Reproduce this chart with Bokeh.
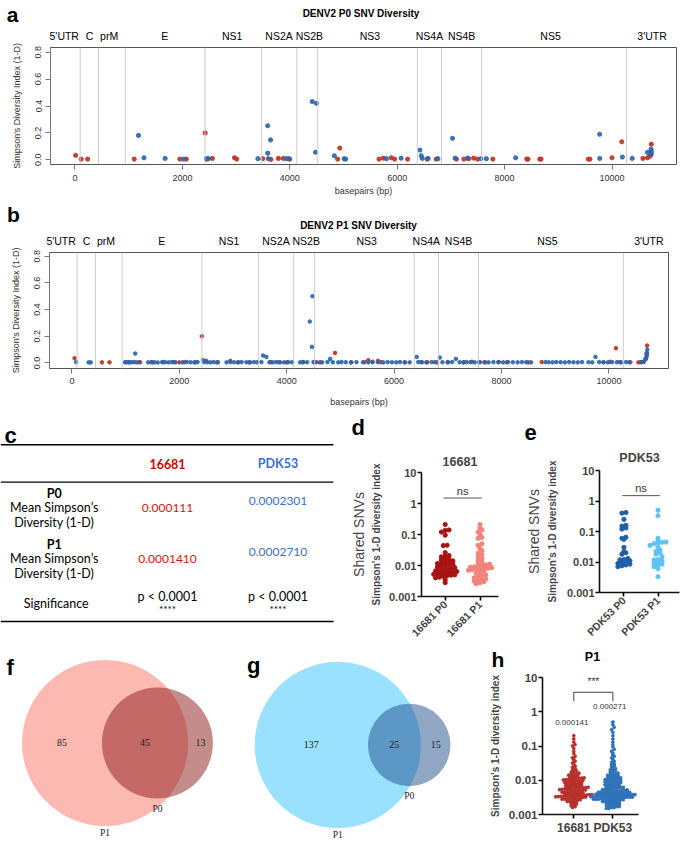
import math
from bokeh.plotting import figure
from bokeh.layouts import column, row
from bokeh.models import (Range1d, FixedTicker, LinearAxis, Span, Label, Title,
                          PrintfTickFormatter)
from bokeh.core.properties import value
from bokeh.embed import file_html
from bokeh.resources import INLINE

SANS = "Liberation Sans"
SERIF = "Liberation Serif"
TFONT = "Lato"

# ---------------- data ----------------
gene_names = ["5'UTR", "C", "prM", "E", "NS1", "NS2A", "NS2B", "NS3", "NS4A", "NS4B", "NS5", "3'UTR"]
gene_ends = [96, 438, 936, 2421, 3477, 4131, 4521, 6375, 6825, 7569, 10269]
bp_ticks = [0, 2000, 4000, 6000, 8000, 10000]
div_ticks = [0.0, 0.2, 0.4, 0.6, 0.8]

a_red_bp = [12, 115, 236, 1103, 1952, 2073, 2424, 2448, 2558, 2970, 3012, 3497, 3648, 3788, 3879,
            4000, 4891, 4930, 5661, 5739, 5891, 5952, 6194, 6558, 6727, 7103, 7242, 7333, 7424, 7497,
            7782, 8412, 8436, 8655, 8679, 9558, 9588, 10000, 10182, 10576, 10661, 10700, 10727, 10730, 10732]
a_red_val = [0.033, 0.005, 0.005, 0.005, 0.005, 0.005, 0.2, 0.005, 0.01, 0.015, 0.005, 0.008, 0.003, 0.01, 0.01,
             0.005, 0.005, 0.087, 0.005, 0.012, 0.015, 0.005, 0.005, 0.005, 0.005, 0.005, 0.005, 0.008, 0.012, 0.005,
             0.005, 0.005, 0.005, 0.005, 0.005, 0.005, 0.005, 0.015, 0.134, 0.01, 0.015, 0.025, 0.037, 0.055, 0.116]
a_blue_bp = [1182, 1285, 1679, 2024, 2448, 2485, 3406, 3588, 3642, 3590, 3600, 3939, 3982, 4418, 4497,
             4479, 4830, 5012, 5042, 5800, 6073, 6424, 6448, 6467, 6576, 6758, 7030, 7079, 7309, 7558,
             7661, 8206, 9770, 9772, 10194, 10376, 10661, 10727, 10729, 10725]
a_blue_val = [0.181, 0.015, 0.01, 0.005, 0.008, 0.008, 0.008, 0.253, 0.148, 0.049, 0.008, 0.008, 0.008, 0.433, 0.42,
              0.056, 0.03, 0.008, 0.005, 0.008, 0.012, 0.072, 0.03, 0.01, 0.01, 0.008, 0.16, 0.012, 0.012, 0.008,
              0.008, 0.015, 0.19, 0.01, 0.02, 0.01, 0.055, 0.08, 0.062, 0.04]

b_blue_bp = [80, 310, 350, 990, 1030, 1070, 1110, 1150, 1180, 1250,
             1420, 1480, 1540, 1600, 1680, 1740, 1800, 1860, 1930, 2060,
             2140, 2210, 2280, 2340, 2440, 2460, 2520, 2580, 2640, 2720,
             2880, 2950, 3020, 3090, 3160, 3250, 3320, 3390, 3450, 3530,
             3560, 3620, 3680, 3740, 3800, 3880, 3950, 4030, 4100, 4250,
             4310, 4380, 4430, 4470, 4480, 4500, 4560, 4660, 4760, 4810,
             4860, 4960, 5020, 5100, 5200, 5300, 5420, 5520, 5600, 5700,
             5800, 5880, 5960, 6040, 6110, 6200, 6290, 6420, 6450, 6520,
             6600, 6700, 6760, 6850, 6900, 7000, 7080, 7150, 7220, 7290,
             7350, 7420, 7500, 7580, 7680, 7760, 7850, 7940, 8030, 8120,
             8210, 8300, 8380, 8460, 8550, 8820, 8880, 8950, 9020, 9100,
             9180, 9260, 9340, 9420, 9500, 9620, 9690, 9750, 9820, 9900,
             9980, 10060, 10150, 10230, 10320, 10380, 10600, 10640, 10680, 10700,
             10705, 10710, 10715]
b_blue_val = [0.006, 0.004, 0.004, 0.005, 0.006, 0.004, 0.005, 0.006, 0.07, 0.005,
              0.004, 0.006, 0.005, 0.003, 0.006, 0.005, 0.004, 0.006, 0.005, 0.004,
              0.006, 0.005, 0.004, 0.006, 0.022, 0.006, 0.005, 0.004, 0.006, 0.005,
              0.004, 0.006, 0.005, 0.004, 0.006, 0.005, 0.004, 0.006, 0.005, 0.006,
              0.055, 0.045, 0.005, 0.004, 0.006, 0.005, 0.004, 0.006, 0.005, 0.004,
              0.006, 0.005, 0.31, 0.12, 0.5, 0.006, 0.005, 0.004, 0.006, 0.03,
              0.005, 0.004, 0.006, 0.005, 0.004, 0.006, 0.005, 0.004, 0.006, 0.005,
              0.004, 0.006, 0.005, 0.004, 0.006, 0.005, 0.004, 0.045, 0.006, 0.005,
              0.004, 0.006, 0.005, 0.04, 0.005, 0.004, 0.006, 0.03, 0.005, 0.004,
              0.006, 0.005, 0.004, 0.006, 0.005, 0.004, 0.006, 0.005, 0.004, 0.006,
              0.005, 0.004, 0.006, 0.005, 0.004, 0.006, 0.005, 0.004, 0.006, 0.005,
              0.004, 0.006, 0.005, 0.004, 0.006, 0.005, 0.004, 0.045, 0.006, 0.005,
              0.004, 0.006, 0.005, 0.004, 0.006, 0.005, 0.006, 0.008, 0.03, 0.045,
              0.06, 0.075, 0.1]
b_red_bp = [50, 560, 700, 1000, 1060, 1200, 1270, 1500, 1700, 1900,
            2000, 2100, 2300, 2420, 2500, 2700, 2950, 3100, 3300, 3700,
            3850, 4000, 4300, 4520, 4620, 4900, 5200, 5450, 5520, 5600,
            5700, 5760, 6200, 6500, 6620, 6800, 7000, 7300, 7450, 7600,
            7700, 7950, 8100, 8500, 8750, 9900, 10020, 10130, 10200, 10400,
            10550, 10600, 10650, 10690, 10700, 10712]
b_red_val = [0.035, 0.004, 0.004, 0.005, 0.006, 0.004, 0.005, 0.004, 0.006, 0.005,
             0.004, 0.006, 0.005, 0.2, 0.015, 0.004, 0.015, 0.005, 0.004, 0.006,
             0.005, 0.004, 0.006, 0.005, 0.004, 0.075, 0.005, 0.006, 0.02, 0.008,
             0.015, 0.005, 0.004, 0.006, 0.005, 0.004, 0.006, 0.005, 0.008, 0.005,
             0.004, 0.006, 0.005, 0.004, 0.006, 0.005, 0.008, 0.11, 0.006, 0.005,
             0.004, 0.006, 0.008, 0.03, 0.07, 0.13]

table_strains = ["16681", "PDK53"]
p0_mean = ["0.000111", "0.0002301"]
p1_mean = ["0.0001410", "0.0002710"]
p_values = ["p < 0.0001", "p < 0.0001"]
p_stars = ["****", "****"]

log_ticks = [0.001, 0.01, 0.1, 1, 10]
log_labels = ["0.001", "0.01", "0.1", "1", "10"]

d_p0 = [0.21, 0.14, 0.135, 0.12, 0.095, 0.045, 0.044, 0.026, 0.021, 0.02, 0.019, 0.016, 0.0155, 0.015, 0.014,
        0.013, 0.0125, 0.012, 0.0115, 0.011, 0.0105, 0.01, 0.0095, 0.009, 0.0085, 0.008, 0.0077, 0.0073, 0.007,
        0.0067, 0.0064, 0.0062, 0.006, 0.0058, 0.0056, 0.0054, 0.0052, 0.005, 0.0049, 0.0047, 0.0045, 0.0042,
        0.004, 0.0035, 0.0028]
d_p1 = [0.21, 0.16, 0.14, 0.12, 0.1, 0.08, 0.075, 0.05, 0.045, 0.035, 0.03, 0.025, 0.022, 0.02, 0.017,
        0.015, 0.013, 0.012, 0.011, 0.0105, 0.01, 0.0095, 0.009, 0.0088, 0.0085, 0.0082, 0.008, 0.0078, 0.0076,
        0.0073, 0.007, 0.0066, 0.006, 0.0056, 0.005, 0.0047, 0.0044, 0.004, 0.0037, 0.0035, 0.0033, 0.0031,
        0.003, 0.0028, 0.0026]
e_p0 = [0.42, 0.4, 0.25, 0.16, 0.15, 0.13, 0.12, 0.065, 0.06, 0.055, 0.03, 0.022, 0.02, 0.018, 0.013,
        0.012, 0.0118, 0.011, 0.0105, 0.0095, 0.009, 0.0085, 0.008, 0.0075, 0.007]
e_p1 = [0.5, 0.33, 0.06, 0.05, 0.045, 0.044, 0.042, 0.04, 0.035, 0.03, 0.025, 0.022, 0.02, 0.018, 0.015,
        0.012, 0.0118, 0.011, 0.01, 0.009, 0.0085, 0.008, 0.007, 0.006, 0.0033]

h_16681 = [0.2, 0.16, 0.13, 0.11, 0.1, 0.085, 0.07, 0.06, 0.05, 0.045, 0.04, 0.036, 0.032, 0.029, 0.026,
           0.024, 0.022, 0.02, 0.019, 0.018, 0.017, 0.016, 0.0155, 0.015, 0.0145, 0.014, 0.0135, 0.013,
           0.0125, 0.012,
           0.0118, 0.0116, 0.0114, 0.0112, 0.011, 0.0108, 0.0106, 0.0104, 0.0102, 0.01,
           0.0098, 0.0096, 0.0094, 0.0092, 0.009, 0.0088, 0.0086, 0.0084, 0.0082, 0.008,
           0.0078, 0.0076, 0.0075, 0.0073, 0.0072, 0.007, 0.0069, 0.0068, 0.0066, 0.0065,
           0.0064, 0.0062, 0.0061, 0.006, 0.0059, 0.0058, 0.0057, 0.0056, 0.0055, 0.0054,
           0.0053, 0.0052, 0.0051, 0.005, 0.0049, 0.0048, 0.0047, 0.0046, 0.0045, 0.0044,
           0.0043, 0.0042, 0.0041, 0.004, 0.0039, 0.0038, 0.0038, 0.0037, 0.0036, 0.0036,
           0.0035, 0.0035, 0.0034, 0.0034, 0.0033, 0.0033, 0.0032, 0.0032, 0.0031, 0.0031,
           0.003, 0.003, 0.0029, 0.0029, 0.0028, 0.0028, 0.0027, 0.0026, 0.0026, 0.0025,
           0.0024, 0.0024, 0.0023, 0.0022, 0.0021, 0.002, 0.0019, 0.0018, 0.0017, 0.0016,
           0.0035, 0.0036, 0.0034, 0.0037, 0.004, 0.0042, 0.0045, 0.005, 0.0055, 0.006]
h_pdk53 = [0.5, 0.42, 0.35, 0.3, 0.25, 0.2, 0.16, 0.13, 0.11, 0.095, 0.08, 0.07, 0.062, 0.055, 0.05,
           0.045, 0.04, 0.036, 0.033, 0.03, 0.028, 0.026, 0.024, 0.022, 0.021, 0.02, 0.019, 0.018, 0.017,
           0.016, 0.0155, 0.015, 0.0145, 0.014, 0.0135, 0.013, 0.0127, 0.0124, 0.0121, 0.0118,
           0.0115, 0.0112, 0.011, 0.0108, 0.0105, 0.0103, 0.01, 0.0098, 0.0096, 0.0093,
           0.0091, 0.0089, 0.0087, 0.0085, 0.0083, 0.0081, 0.0079, 0.0077, 0.0075, 0.0073,
           0.0071, 0.007, 0.0068, 0.0067, 0.0065, 0.0064, 0.0062, 0.0061, 0.006, 0.0058,
           0.0057, 0.0056, 0.0055, 0.0054, 0.0053, 0.0052, 0.0051, 0.005, 0.0049, 0.0048,
           0.0047, 0.0047, 0.0046, 0.0045, 0.0045, 0.0044, 0.0043, 0.0043, 0.0042, 0.0041,
           0.0041, 0.004, 0.004, 0.0039, 0.0039, 0.0038, 0.0038, 0.0037, 0.0037, 0.0036,
           0.0036, 0.0035, 0.0035, 0.0035, 0.0034, 0.0034, 0.0034, 0.0033, 0.0033, 0.0033,
           0.0032, 0.0032, 0.0032, 0.0031, 0.0031, 0.0031, 0.003, 0.003, 0.003, 0.0029,
           0.0029, 0.0029, 0.0028, 0.0028, 0.0028, 0.0027, 0.0027, 0.0026, 0.0026, 0.0026,
           0.0025, 0.0025, 0.0024, 0.0024, 0.0023, 0.0023, 0.0022, 0.0022, 0.0021, 0.0021,
           0.002, 0.002, 0.0019, 0.0019, 0.0018, 0.0018, 0.0017, 0.0017, 0.0016, 0.0016,
           0.0015, 0.0015, 0.0044, 0.0042, 0.0039, 0.0037, 0.0034, 0.0032, 0.0046, 0.0036,
           0.0041, 0.0049]
h_groups = ["16681", "PDK53"]
h_means = ["0.000141", "0.000271"]
h_sig = "***"

venn_f_counts = [85, 45, 13]    # P1 only, shared, P0 only
venn_g_counts = [137, 25, 15]


# ---------------- helpers ----------------
def blank_fig(w, h, xr=None, yr=None):
    p = figure(width=w, height=h, x_range=xr or Range1d(0, w), y_range=yr or Range1d(h, 0),
               output_backend="svg", toolbar_location=None, min_border=0, title=None, frame_align=False,
               x_axis_location=None, y_axis_location=None)
    p.grid.visible = False
    p.outline_line_color = None
    return p


def put_text(p, xs, ys, texts, size, bold=False, font=SANS, color="black", align="center",
             baseline="middle"):
    p.text(xs, ys, text=texts, text_font=value(font), text_font_size=size,
           text_font_style="bold" if bold else "normal", text_color=color,
           text_align=align, text_baseline=baseline)


def swarm_x(vals, center, ppd, ppu, row_px, sep_px):
    order = sorted(range(len(vals)), key=lambda i: vals[i])
    bins = {}
    for i in order:
        k = int(round(math.log10(vals[i]) * ppd / row_px))
        bins.setdefault(k, []).append(i)
    xs = [0.0] * len(vals)
    for k, idx in bins.items():
        n = len(idx)
        for j, i in enumerate(idx):
            xs[i] = center + (j - (n - 1) / 2.0) * sep_px / ppu
    return xs


def genome_panel(h, top, fh, left, right, xr, yr, rbp, rv, bbp, bv, xlab_standoff, tick_standoff, psize):
    p = figure(width=682, height=h, x_range=Range1d(*xr), y_range=Range1d(*yr),
               output_backend="svg", toolbar_location=None, title=None, frame_align=False,
               min_border_left=left, min_border_right=right, min_border_top=top,
               min_border_bottom=h - top - fh)
    p.grid.visible = False
    p.outline_line_color = "#555555"
    p.outline_line_width = 1
    for e in gene_ends:
        p.add_layout(Span(location=e, dimension="height", line_color="#cccccc", line_width=1))
    xa = p.below[0]
    xa.ticker = FixedTicker(ticks=bp_ticks)
    xa.axis_line_color = None
    xa.major_tick_line_color = "#777777"
    xa.major_tick_out = 5
    xa.major_tick_in = 0
    xa.minor_tick_line_color = None
    xa.major_label_standoff = tick_standoff
    xa.major_label_text_font = SANS
    xa.major_label_text_font_size = "9px"
    xa.major_label_text_color = "#333333"
    xa.axis_label = "basepairs (bp)"
    xa.axis_label_text_font = SANS
    xa.axis_label_text_font_size = "9px"
    xa.axis_label_text_font_style = "normal"
    xa.axis_label_text_color = "#333333"
    xa.axis_label_standoff = xlab_standoff
    ya = p.left[0]
    ya.ticker = FixedTicker(ticks=div_ticks)
    ya.formatter = PrintfTickFormatter(format="%.1f")
    ya.major_label_orientation = "vertical"
    ya.axis_line_color = "#777777"
    ya.major_tick_line_color = "#777777"
    ya.major_tick_out = 5
    ya.major_tick_in = 0
    ya.minor_tick_line_color = None
    ya.major_label_standoff = 4
    ya.major_label_text_font = SANS
    ya.major_label_text_font_size = "9px"
    ya.major_label_text_color = "#333333"
    ya.axis_label = "Simpson's Diversity Index (1-D)"
    ya.axis_label_text_font = SANS
    ya.axis_label_text_font_size = "9px"
    ya.axis_label_text_font_style = "normal"
    ya.axis_label_text_color = "#333333"
    ya.axis_label_standoff = 11
    gpos = [-200, 273, 636, 1673, 2927, 3800, 4364, 5491, 6600, 7200, 8855, 10745]
    gax = LinearAxis(ticker=FixedTicker(ticks=gpos),
                     major_label_overrides={gp: n for gp, n in zip(gpos, gene_names)},
                     axis_line_color=None, major_tick_line_color=None, minor_tick_line_color=None,
                     major_label_standoff=0, major_label_text_font=SANS,
                     major_label_text_font_size="10.5px", major_label_text_color="black")
    p.add_layout(gax, "above")
    p.scatter(rbp, rv, size=psize, color="#C0392B", alpha=0.95)
    p.scatter(bbp, bv, size=psize, color="#2A66AE", alpha=0.9)
    return p


# ---------------- panel a ----------------
ha = blank_fig(682, 26)
put_text(ha, [12], [2], ["a"], "21px", bold=True, baseline="top")
put_text(ha, [360.5], [12.8], ["DENV2 P0 SNV Diversity"], "10px", bold=True)
pa = genome_panel(173, 15, 123, 50, 6, (-456, 11201), (-0.035, 0.835),
                  a_red_bp, a_red_val, a_blue_bp, a_blue_val, 2, 5, 4.2)

# ---------------- panel b ----------------
hb = blank_fig(682, 32)
put_text(hb, [13], [3], ["b"], "21px", bold=True, baseline="top")
put_text(hb, [358], [26], ["DENV2 P1 SNV Diversity"], "10px", bold=True)
pb = genome_panel(179, 15, 122, 49, 14, (-417, 11110), (-0.042, 0.828),
                  b_red_bp, b_red_val, b_blue_bp, b_blue_val, 10, 4, 3.6)

# ---------------- panel c (table) ----------------
pc = blank_fig(347, 235)
colx = [167, 277.5]
for yy in [34.3, 71.6, 211]:
    pc.line([0, 333], [yy, yy], line_color="black", line_width=1.4)
put_text(pc, [10], [24.5], ["c"], "22px", bold=True, baseline="alphabetic")
pc.text(colx, [53, 53], text=table_strains, text_color=["#D10000", "#3A6FD0"], text_font=value(TFONT),
        text_font_size="12.5px", text_font_style="bold", text_align="center", text_baseline="middle")
put_text(pc, [53.7, 53.7], [83.4, 134.4], ["P0", "P1"], "12.5px", bold=True, font=TFONT)
put_text(pc, [53.7, 53.7, 53.7, 53.7], [97.1, 111.9, 148.2, 162.9],
         ["Mean Simpson\u2019s", "Diversity (1-D)", "Mean Simpson\u2019s", "Diversity (1-D)"],
         "12.5px", font=TFONT)
pc.text(colx, [97.1, 90.3], text=p0_mean, text_color=["#E01010", "#3A6FD0"], text_font=value(TFONT),
        text_font_size="12px", text_align="center", text_baseline="middle")
pc.text(colx, [148.2, 141.3], text=p1_mean, text_color=["#E01010", "#3A6FD0"], text_font=value(TFONT),
        text_font_size="12px", text_align="center", text_baseline="middle")
put_text(pc, [55.7], [193.3], ["Significance"], "12.5px", font=TFONT)
put_text(pc, colx, [186.4, 186.4], p_values, "12.5px", font=TFONT)
put_text(pc, colx, [198.5, 198.5], p_stars, "10px", font=TFONT)


# ---------------- swarm panels ----------------
def swarm_panel(w, h, left, right, top, fh, xr, title, title_standoff, xlabels, rotate,
                xlab_size, share_title, ylab_standoff, share_standoff):
    p = figure(width=w, height=h, x_range=Range1d(*xr), y_range=Range1d(0.001, 10), y_axis_type="log",
               output_backend="svg", toolbar_location=None, title=None, frame_align=False,
               min_border_left=left, min_border_right=right,
               min_border_top=top, min_border_bottom=h - top - fh)
    p.grid.visible = False
    p.outline_line_color = None
    if title:
        p.add_layout(Title(text=title, align="center", text_font=SANS, text_font_size="12.5px",
                           text_font_style="bold", standoff=title_standoff), "above")
    ya = p.yaxis[0]
    ya.ticker = FixedTicker(ticks=log_ticks)
    ya.major_label_overrides = {t: s for t, s in zip(log_ticks, log_labels)}
    ya.axis_line_width = 1.6
    ya.axis_line_color = "#111111"
    ya.major_tick_line_width = 1.6
    ya.major_tick_out = 4
    ya.major_tick_in = 0
    ya.minor_tick_line_color = None
    ya.major_label_standoff = 1
    ya.major_label_text_font = SANS
    ya.major_label_text_font_size = "11px"
    ya.major_label_text_font_style = "bold"
    ya.axis_label = "Simpson's 1-D diversity index"
    ya.axis_label_text_font = SANS
    ya.axis_label_text_font_size = "10px"
    ya.axis_label_text_font_style = "bold"
    ya.axis_label_standoff = ylab_standoff
    xa = p.xaxis[0]
    xa.ticker = FixedTicker(ticks=[0, 1])
    xa.major_label_overrides = {0: xlabels[0], 1: xlabels[1]}
    xa.axis_line_width = 1.6
    xa.axis_line_color = "#111111"
    xa.major_tick_line_width = 1.6
    xa.major_tick_out = 4
    xa.major_tick_in = 0
    xa.minor_tick_line_color = None
    xa.major_label_standoff = 2
    xa.major_label_text_font = SANS
    xa.major_label_text_font_size = xlab_size
    xa.major_label_text_font_style = "bold"
    if rotate:
        xa.major_label_orientation = math.pi / 4
    if share_title:
        p.add_layout(Title(text=share_title, align="center", text_font=SANS, text_font_size="14px",
                           text_font_style="normal", standoff=share_standoff), "left")
    return p


hd = blank_fig(171, 30)
put_text(hd, [10.7], [29], ["d"], "22px", bold=True, baseline="bottom")
he = blank_fig(164, 30)
put_text(he, [12], [29], ["e"], "22px", bold=True, baseline="bottom")

# d
pd_ = swarm_panel(171, 205, 71, 20, 32, 129, (-0.68, 1.53), "16681", 13, ["16681 P0", "16681 P1"], True,
                  "10.5px", "Shared SNVs", 4, 2)
pd_.scatter(swarm_x(d_p0, 0, 32.25, 36.2, 3.6, 4.0), d_p0, size=4.2, color="#A81212")
pd_.scatter(swarm_x(d_p1, 1, 32.25, 36.2, 3.6, 4.0), d_p1, size=4.2, color="#F2837B")
pd_.line([-0.05, 1.05], [1.5, 1.5], line_color="#555555", line_width=1)
pd_.text([0.5], [2.6], text=["ns"], text_font=value(SANS), text_font_size="11px", text_align="center",
         text_baseline="middle", text_color="#333333")

# e
pe = swarm_panel(164, 205, 81, 3, 30, 123, (-0.716, 1.63), "PDK53", 11, ["PDK53 P0", "PDK53 P1"], True,
                 "10.5px", "Shared SNVs", 6, 4)
pe.scatter(swarm_x(e_p0, 0, 30.75, 34.1, 3.6, 4.0), e_p0, size=4.2, color="#1F5FA8")
pe.scatter(swarm_x(e_p1, 1, 30.75, 34.1, 3.6, 4.0), e_p1, size=4.2, color="#5CC3F2")
pe.line([-0.05, 1.05], [1.5, 1.5], line_color="#555555", line_width=1)
pe.text([0.5], [2.6], text=["ns"], text_font=value(SANS), text_font_size="11px", text_align="center",
        text_baseline="middle", text_color="#333333")


# ---------------- panel f/g (Venn) ----------------
def lens_area(r1, r2, d):
    if d >= r1 + r2:
        return 0.0
    if d <= abs(r1 - r2):
        return math.pi * min(r1, r2) ** 2
    a1 = r1 * r1 * math.acos((d * d + r1 * r1 - r2 * r2) / (2 * d * r1))
    a2 = r2 * r2 * math.acos((d * d + r2 * r2 - r1 * r1) / (2 * d * r2))
    a3 = 0.5 * math.sqrt((-d + r1 + r2) * (d + r1 - r2) * (d - r1 + r2) * (d + r1 + r2))
    return a1 + a2 - a3


def venn_geom(counts, R):
    only1, both, only0 = counts
    n1, n0 = only1 + both, only0 + both
    r1, r0 = R, R * math.sqrt(n0 / n1)
    target = both / n1 * math.pi * R * R
    lo, hi = abs(r1 - r0) + 1e-9, r1 + r0
    for _ in range(80):
        mid = (lo + hi) / 2
        if lens_area(r1, r0, mid) > target:
            lo = mid
        else:
            hi = mid
    return r1, r0, (lo + hi) / 2


pv = blank_fig(479, 194, Range1d(0, 490), Range1d(855, 658))


def draw_venn(p, counts, cx, cy, R, c1, a1, c0, a0):
    r1, r0, d = venn_geom(counts, R)
    cx0 = cx + d
    p.circle([cx], [cy], radius=r1, fill_color=c1, fill_alpha=a1, line_color=None)
    p.circle([cx0], [cy], radius=r0, fill_color=c0, fill_alpha=a0, line_color=None)
    xs = [((cx - r1) + (cx0 - r0)) / 2, ((cx0 - r0) + (cx + r1)) / 2, ((cx + r1) + (cx0 + r0)) / 2]
    put_text(p, xs, [cy] * 3, [str(c) for c in counts], "10px", font=SERIF, color="#222222")
    put_text(p, [cx0, cx], [cy + r0 + 10, cy + r1 + 6], ["P0", "P1"], "9.5px", font=SERIF, color="#222222")


draw_venn(pv, venn_f_counts, 107, 757, 85, "#FA8072", 0.55, "#8B1A1A", 0.5)
draw_venn(pv, venn_g_counts, 345, 759, 85, "#33C3FF", 0.5, "#1F4E8C", 0.5)
put_text(pv, [10, 259], [680, 678], ["f", "g"], "22px", bold=True, baseline="alphabetic")

# ---------------- panel h ----------------
hh = blank_fig(203, 26)
put_text(hh, [18.3], [25.5], ["h"], "21px", bold=True, baseline="bottom")
put_text(hh, [113], [11.5], ["P1"], "12.5px", bold=True)
ph = swarm_panel(203, 168, 63, 44, 6, 137, (-0.80, 1.655), None, 0, h_groups, False, "12px", None, 5, 0)
ph.yaxis[0].major_label_text_font_size = "11.5px"
ph.yaxis[0].axis_label_text_font_size = "10px"
ph.scatter(swarm_x(h_16681, 0, 34.25, 39.1, 2.4, 2.6), h_16681, size=2.8, color="#B8302B")
ph.scatter(swarm_x(h_pdk53, 1, 34.25, 39.1, 2.4, 2.6), h_pdk53, size=2.8, color="#2E72B8")
ph.line([0, 0, 1, 1], [2.06, 3.7, 3.7, 2.06], line_color="#444444", line_width=1)
ph.add_layout(Label(x=0.5, y=7.6, text=h_sig, text_font=SANS, text_font_size="10px", text_align="center",
                    text_baseline="middle", text_color="#333333"))
ph.text([-0.05, 0.92], [0.48, 1.39], text=h_means, text_font=value(SANS), text_font_size="8px",
        text_align="center", text_baseline="middle", text_color="#333333")

layout = column(ha, pa, hb, pb,
                row(pc, column(hd, pd_), column(he, pe)),
                row(pv, column(hh, ph)))
open("out.html", "w").write(file_html(layout, INLINE))
